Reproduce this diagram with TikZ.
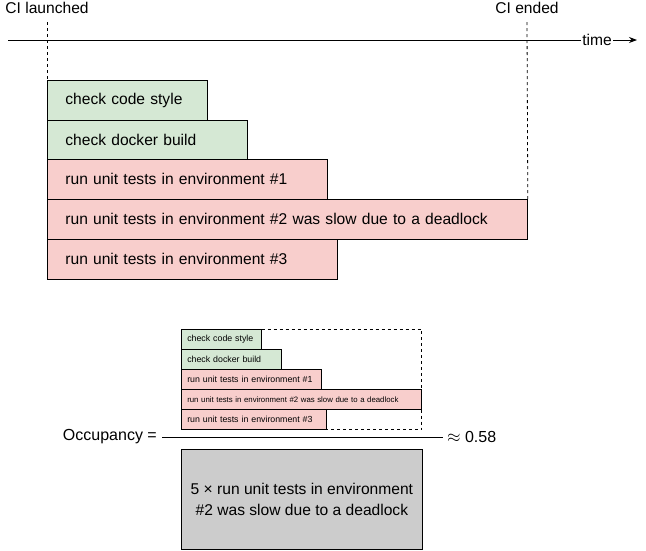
\documentclass[tikz,border=0pt]{standalone}
\usepackage{fontspec}
\setmainfont{Liberation Sans}
\usetikzlibrary{arrows.meta}
\definecolor{gfill}{HTML}{D5E8D4}
\definecolor{rfill}{HTML}{F8CECC}
\definecolor{grayfill}{HTML}{CCCCCC}
\begin{document}
\begin{tikzpicture}[x=1pt,y=-1pt,
  big/.style={font=\fontsize{15.6}{18}\selectfont},
  task/.style={draw=black, line width=0.8pt, minimum height=40pt, inner xsep=18pt, inner ysep=0pt, anchor=north west, align=left, big},
  smalltask/.style={draw=black, line width=0.6pt, minimum height=20pt, inner xsep=6pt, inner ysep=0pt, anchor=north west, align=left, font=\fontsize{8.8}{10}\selectfont},
  dashline/.style={dash pattern=on 3pt off 3pt, line width=0.8pt}]
\useasboundingbox (0,0) rectangle (646,550);

% time axis
\node[big, inner sep=0pt] (launch) at (47,8) {CI launched};
\node[big, inner sep=0pt] (ended) at (527,8) {CI ended};
\coordinate (tstart) at (8,40);
\coordinate (tend) at (637,40);
\draw[line width=0.8pt, -{Stealth[length=8pt,width=6pt]}] (tstart) -- (tend);
\node[big, fill=white, inner xsep=1.5pt, inner ysep=1pt] (time) at (597,40) {time};

% big task boxes
\node[task, fill=gfill, text width=124pt] (cs) at (47,80) {check code style};
\node[task, fill=gfill, text width=164pt] (db) at (47,119.5) {check docker build};
\node[task, fill=rfill, text width=244pt] (e1) at (47,159) {run unit tests in environment \#1};
\node[task, fill=rfill, text width=444pt] (e2) at (47,199) {run unit tests in environment \#2 was slow due to a deadlock};
\node[task, fill=rfill, text width=254pt] (e3) at (47,239) {run unit tests in environment \#3};

\coordinate (lt) at (47,22);
\coordinate (et) at (527,22);
\draw[dashline] (lt) -- (cs.north west);
\draw[dashline] (et) -- (e2.north east);

% small version
\node[smalltask, fill=gfill, text width=68pt] (scs) at (181,329) {check code style};
\node[smalltask, fill=gfill, text width=88pt] (sdb) at (181,349) {check docker build};
\node[smalltask, fill=rfill, text width=128pt] (se1) at (181,369) {run unit tests in environment \#1};
\node[smalltask, fill=rfill, text width=228pt, font=\fontsize{7.8}{9}\selectfont] (se2) at (181,389) {run unit tests in environment \#2 was slow due to a deadlock};
\node[smalltask, fill=rfill, text width=133pt] (se3) at (181,409) {run unit tests in environment \#3};
\draw[dashline] (scs.north east) -- (se2.north east |- scs.north) -- (se2.north east);
\draw[dashline] (se2.south east) -- (se2.south east |- se3.south) -- (se3.south east);

% fraction
\node[inner sep=0pt, anchor=east, font=\fontsize{16}{19}\selectfont] (occ) at (157,437) {Occupancy =};
\node[inner sep=0pt, anchor=west, font=\fontsize{16}{19}\selectfont] (approx) at (447,437) {$\approx$ 0.58};
\draw[line width=0.8pt, shorten <=5pt, shorten >=4pt] (occ.east) -- (approx.west);

\node[draw=black, line width=0.8pt, fill=grayfill, anchor=north west, minimum width=241pt, minimum height=100pt, inner sep=0pt, align=center, font=\fontsize{15.6}{21}\selectfont] (den) at (181,449) {5 × run unit tests in environment\\\#2 was slow due to a deadlock};
\end{tikzpicture}
\end{document}
